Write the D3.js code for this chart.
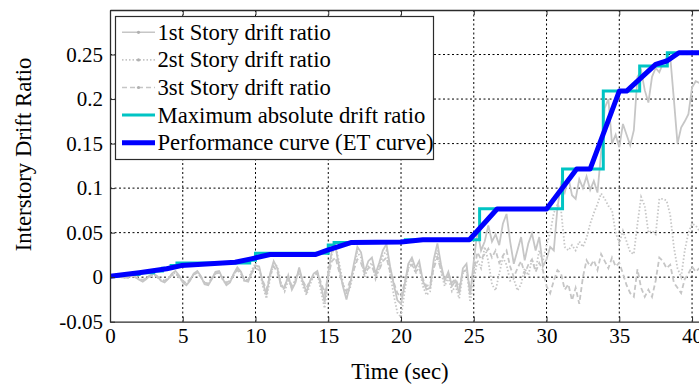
<!DOCTYPE html>
<html>
<head>
<meta charset="utf-8">
<script src="https://cdn.jsdelivr.net/npm/d3@7"></script>
<style>
  body { margin: 0; background: #fff; }
  svg { display: block; }
  text { font-family: "Liberation Serif", "Times New Roman", serif; fill: #000; }
</style>
</head>
<body>
<svg id="chart" width="699" height="385"></svg>
<script>
// Sampling interval of the story drift records (sec)
const sampleStep = 0.25;

// 1st story drift ratio (solid)
const story1 = [
  0.000, 0.001, 0.002, 0.001,   -0.001, 0.001, 0.003, 0.000,
  -0.003, -0.005, -0.002, 0.002,   0.004, 0.001, -0.004, -0.006,
  -0.002, 0.004, 0.007, 0.002,   -0.006, -0.009, -0.004, 0.004,
  0.007, 0.001, -0.008, -0.009,   -0.002, 0.006, 0.007, -0.002,
  -0.009, -0.006, 0.004, 0.011,   0.006, -0.004, -0.005, 0.006,
  0.013, 0.012, -0.006, -0.020,   0.004, 0.018, 0.010, -0.010,
  -0.012, 0.002, -0.014, -0.006,   0.011, -0.005, -0.017, -0.004,
  0.004, 0.007, -0.010, -0.028,   0.005, 0.030, 0.034, 0.011,
  -0.010, -0.025, -0.008, 0.014,   0.034, 0.028, 0.006, 0.018,
  0.022, 0.004, 0.016, 0.030,   0.037, 0.012, -0.008, -0.026,
  -0.030, -0.008, 0.015, 0.022,   0.010, 0.018, -0.004, -0.014,
  -0.012, 0.020, 0.038, 0.014,   -0.004, 0.006, -0.010, -0.004,
  -0.018, 0.010, 0.015, -0.020,   0.018, 0.052, 0.030, 0.040,
  0.058, 0.040, 0.048, 0.036,   0.060, 0.071, 0.040, 0.015,
  0.030, 0.045, 0.019, 0.038,   0.049, 0.030, 0.045, 0.012,
  0.020, 0.034, 0.030, 0.078,   0.105, 0.095, 0.112, 0.092,
  0.088, 0.110, 0.100, 0.113,   0.098, 0.108, 0.095, 0.140,
  0.190, 0.200, 0.150, 0.160,   0.146, 0.172, 0.160, 0.148,
  0.165, 0.225, 0.232, 0.210,   0.196, 0.225, 0.235, 0.230,
  0.240, 0.246, 0.248, 0.200,   0.150, 0.168, 0.175, 0.183,
  0.213, 0.220, 0.218
];

// 2nd story drift ratio (dotted)
const story2 = [
  0.000, 0.000, 0.001, 0.001,   0.000, -0.001, 0.002, 0.001,
  -0.002, -0.004, -0.001, 0.002,   0.003, 0.000, -0.003, -0.005,
  -0.001, 0.003, 0.005, 0.000,   -0.005, -0.008, -0.003, 0.003,
  0.006, 0.000, -0.007, -0.008,   -0.001, 0.005, 0.006, -0.003,
  -0.008, -0.004, 0.003, 0.009,   0.004, -0.005, -0.003, 0.008,
  0.016, 0.010, -0.010, -0.024,   -0.002, 0.016, 0.012, -0.006,
  -0.016, -0.004, -0.012, -0.002,   0.008, -0.010, -0.020, -0.008,
  0.002, 0.004, -0.016, -0.035,   -0.004, 0.026, 0.036, 0.016,
  -0.006, -0.020, -0.012, 0.008,   0.028, 0.022, 0.000, 0.012,
  0.016, -0.002, 0.010, 0.024,   0.030, 0.004, -0.020, -0.040,
  -0.045, -0.016, 0.010, 0.018,   0.004, 0.012, -0.010, -0.020,
  -0.016, 0.012, 0.030, 0.006,   -0.010, 0.000, -0.016, -0.010,
  -0.024, 0.004, 0.010, -0.028,   -0.004, 0.019, 0.010, 0.034,
  0.018, -0.008, -0.015, 0.004,   0.022, 0.014, -0.004, -0.002,
  -0.015, -0.008, 0.010, 0.002,   0.020, 0.008, 0.030, 0.018,
  0.036, 0.050, 0.072, 0.082,   0.075, 0.034, 0.030, 0.036,
  0.030, 0.040, 0.034, 0.044,   0.060, 0.072, 0.082, 0.094,
  0.088, 0.080, 0.075, 0.050,   0.038, 0.052, 0.040, 0.028,
  0.026, 0.060, 0.090, 0.080,   0.050, 0.052, 0.048, 0.088,
  0.088, 0.086, 0.070, 0.034,   0.010, 0.000, 0.030, 0.050,
  0.060, 0.058, 0.052
];

// 3rd story drift ratio (dashed)
const story3 = [
  0.000, 0.000, 0.001, 0.000,   -0.001, 0.000, 0.001, 0.000,
  -0.002, -0.003, -0.001, 0.001,   0.002, 0.000, -0.002, -0.004,
  -0.001, 0.002, 0.004, 0.000,   -0.004, -0.007, -0.002, 0.003,
  0.005, 0.000, -0.006, -0.007,   -0.001, 0.004, 0.005, -0.002,
  -0.006, -0.004, 0.002, 0.008,   0.004, -0.003, -0.003, 0.005,
  0.010, 0.008, -0.004, -0.014,   0.002, 0.012, 0.006, -0.008,
  -0.010, 0.000, -0.010, -0.004,   0.007, -0.004, -0.012, -0.004,
  0.002, 0.005, -0.006, -0.018,   0.002, 0.018, 0.022, 0.006,
  -0.008, -0.016, -0.004, 0.008,   0.020, 0.016, 0.004, 0.010,
  0.012, 0.002, 0.008, 0.018,   0.022, 0.006, -0.006, -0.018,
  -0.022, -0.006, 0.010, 0.014,   0.006, 0.010, -0.002, -0.010,
  -0.008, 0.010, 0.022, 0.008,   -0.002, 0.004, -0.006, -0.002,
  -0.012, 0.006, 0.008, -0.014,   0.006, 0.028, 0.020, 0.026,
  0.032, 0.022, 0.030, 0.016,   0.024, 0.030, 0.012, 0.000,
  0.010, 0.018, 0.004, 0.014,   0.020, 0.006, 0.016, 0.008,
  -0.010, -0.018, -0.004, 0.008,   0.004, -0.014, -0.008, -0.026,
  -0.012, -0.030, 0.000, 0.019,   0.012, 0.019, 0.008, 0.026,
  0.018, 0.010, 0.022, 0.012,   0.016, 0.004, -0.009, -0.018,
  -0.022, 0.009, -0.012, -0.022,   -0.014, -0.022, -0.004, 0.022,
  0.018, 0.010, 0.014, -0.006,   -0.012, -0.018, -0.002, 0.004,
  0.012, 0.006, 0.010
];

// Maximum absolute drift ratio: running maximum, as step changes
const maxTime  = [0, 0.5, 2.0, 3.0, 3.6, 4.2, 4.6, 9.6, 10.0, 15.0, 15.4, 20.3, 25.4, 31.1, 33.9, 36.4, 38.3, 41];
const maxValue = [0.001, 0.003, 0.005, 0.007, 0.010, 0.013, 0.016, 0.019, 0.027, 0.036, 0.039, 0.042, 0.0767, 0.1215, 0.209, 0.237, 0.252, 0.252];

// Performance curve (ET curve)
const etTime  = [0, 2.0, 3.9, 4.9, 8.6, 9.7, 11.0, 14.1, 14.9, 16.6, 20.0, 21.5, 24.7, 26.6, 30.0, 32.07, 33.0, 35.0, 35.5, 37.5, 38.3, 39.1, 41];
const etValue = [0.001, 0.005, 0.0094, 0.013, 0.0168, 0.0206, 0.0254, 0.0254, 0.030, 0.039, 0.0396, 0.042, 0.042, 0.0765, 0.0765, 0.1215, 0.1215, 0.209, 0.209, 0.239, 0.243, 0.252, 0.252];

// Axis ticks
const xTicks = [0, 5, 10, 15, 20, 25, 30, 35, 40];
const yTicks = [-0.05, 0, 0.05, 0.1, 0.15, 0.2, 0.25];
const yTickLabels = ["-0.05", "0", "0.05", "0.1", "0.15", "0.2", "0.25"];

const legendLabels = [
  "1st Story drift ratio",
  "2st Story drift ratio",
  "3st Story drift ratio",
  "Maximum absolute drift ratio",
  "Performance curve (ET curve)"
];

const svg = d3.select("#chart");
const plotLeft = 110, plotTop = 10, plotBottom = 321.7, plotRight = 706.6;

const x = d3.scaleLinear().domain([0, 41]).range([plotLeft, plotRight]);
const y = d3.scaleLinear().domain([-0.05, 0.3]).range([plotBottom, plotTop]);

const gray = "#c6c6c6";
const cyan = "#00c4c4";
const blue = "#0000ff";
const frame = "#2b2b2b";

svg.append("defs").append("clipPath").attr("id", "plot-clip")
  .append("rect").attr("x", plotLeft).attr("y", plotTop)
  .attr("width", plotRight - plotLeft).attr("height", plotBottom - plotTop);

// Dotted grid
const grid = svg.append("g");
grid.selectAll("line.vx").data(xTicks.filter(d => d > 0)).join("line")
  .attr("x1", d => x(d)).attr("x2", d => x(d)).attr("y1", plotTop).attr("y2", plotBottom)
  .attr("stroke", "#000").attr("stroke-width", 1).attr("stroke-dasharray", "2,2.5");
grid.selectAll("line.hy").data(yTicks.filter(d => d > -0.05)).join("line")
  .attr("x1", plotLeft).attr("x2", plotRight).attr("y1", d => y(d)).attr("y2", d => y(d))
  .attr("stroke", "#000").attr("stroke-width", 1).attr("stroke-dasharray", "2,2.5");

const plot = svg.append("g").attr("clip-path", "url(#plot-clip)");

const storyLine = d3.line().x((d, i) => x(i * sampleStep)).y(d => y(d));
const stories = [
  { values: story3, dash: "5,3" },
  { values: story2, dash: "1.5,2" },
  { values: story1, dash: null }
];
stories.forEach(s => {
  plot.append("path").datum(s.values)
    .attr("d", storyLine)
    .attr("fill", "none").attr("stroke", gray).attr("stroke-width", 1.8)
    .attr("stroke-dasharray", s.dash);
});

// Maximum absolute drift ratio (staircase)
const maxLine = d3.line().curve(d3.curveStepAfter)
  .x((d, i) => x(maxTime[i])).y(d => y(d));
plot.append("path").datum(maxValue)
  .attr("d", maxLine)
  .attr("fill", "none").attr("stroke", cyan).attr("stroke-width", 3);

// ET performance curve
const etLine = d3.line().x((d, i) => x(etTime[i])).y(d => y(d));
plot.append("path").datum(etValue)
  .attr("d", etLine)
  .attr("fill", "none").attr("stroke", blue).attr("stroke-width", 5)
  .attr("stroke-linejoin", "round");

// Axes with inward ticks
const tickFont = 21;
const titleFont = 22.8;
const legendFont = 22.7;
const xAxis = svg.append("g").attr("transform", `translate(0,${plotBottom})`)
  .call(d3.axisBottom(x).tickValues(xTicks).tickSize(-5).tickSizeOuter(0).tickPadding(6).tickFormat(d3.format("d")));
const topAxis = svg.append("g").attr("transform", `translate(0,${plotTop})`)
  .call(d3.axisTop(x).tickValues(xTicks).tickSize(-5).tickSizeOuter(0).tickFormat(""));
const yAxis = svg.append("g").attr("transform", `translate(${plotLeft},0)`)
  .call(d3.axisLeft(y).tickValues(yTicks).tickSize(-5).tickSizeOuter(0).tickPadding(7)
    .tickFormat((d, i) => yTickLabels[i]));

[xAxis, topAxis, yAxis].forEach(g => {
  g.selectAll("path.domain").attr("stroke", frame).attr("stroke-width", 1.3);
  g.selectAll(".tick line").attr("stroke", frame).attr("stroke-width", 1);
  g.selectAll("text").attr("font-family", '"Liberation Serif", serif')
    .attr("font-size", tickFont).attr("fill", "#000");
});

// Axis titles
svg.append("text")
  .attr("x", 400).attr("y", 379).attr("text-anchor", "middle")
  .attr("font-size", titleFont).text("Time (sec)");
svg.append("text")
  .attr("transform", "translate(31,154.5) rotate(-90)")
  .attr("text-anchor", "middle").attr("font-size", titleFont)
  .text("Interstory Drift Ratio");

// Legend
const legend = svg.append("g");
legend.append("rect")
  .attr("x", 115.5).attr("y", 16.5).attr("width", 318).attr("height", 143)
  .attr("fill", "#fff").attr("stroke", frame).attr("stroke-width", 1.2);

const legendStyles = [
  { color: gray, width: 1.6, dash: null, marker: true },
  { color: gray, width: 1.6, dash: "1.5,2", marker: true },
  { color: gray, width: 1.6, dash: "5,3", marker: true },
  { color: cyan, width: 3, dash: null, marker: false },
  { color: blue, width: 5, dash: null, marker: false }
];
const rows = legend.selectAll("g.row").data(legendLabels).join("g")
  .attr("transform", (d, i) => `translate(0,${32.3 + i * 27.6})`);
rows.append("line")
  .attr("x1", 122).attr("x2", 155).attr("y1", 0).attr("y2", 0)
  .attr("stroke", (d, i) => legendStyles[i].color)
  .attr("stroke-width", (d, i) => legendStyles[i].width)
  .attr("stroke-dasharray", (d, i) => legendStyles[i].dash);
rows.filter((d, i) => legendStyles[i].marker).append("circle")
  .attr("cx", 138.5).attr("cy", 0).attr("r", 1.6).attr("fill", "#b0b0b0");
rows.append("text")
  .attr("x", 157.5).attr("y", 7.5).attr("font-size", legendFont)
  .text(d => d);
</script>
</body>
</html>
